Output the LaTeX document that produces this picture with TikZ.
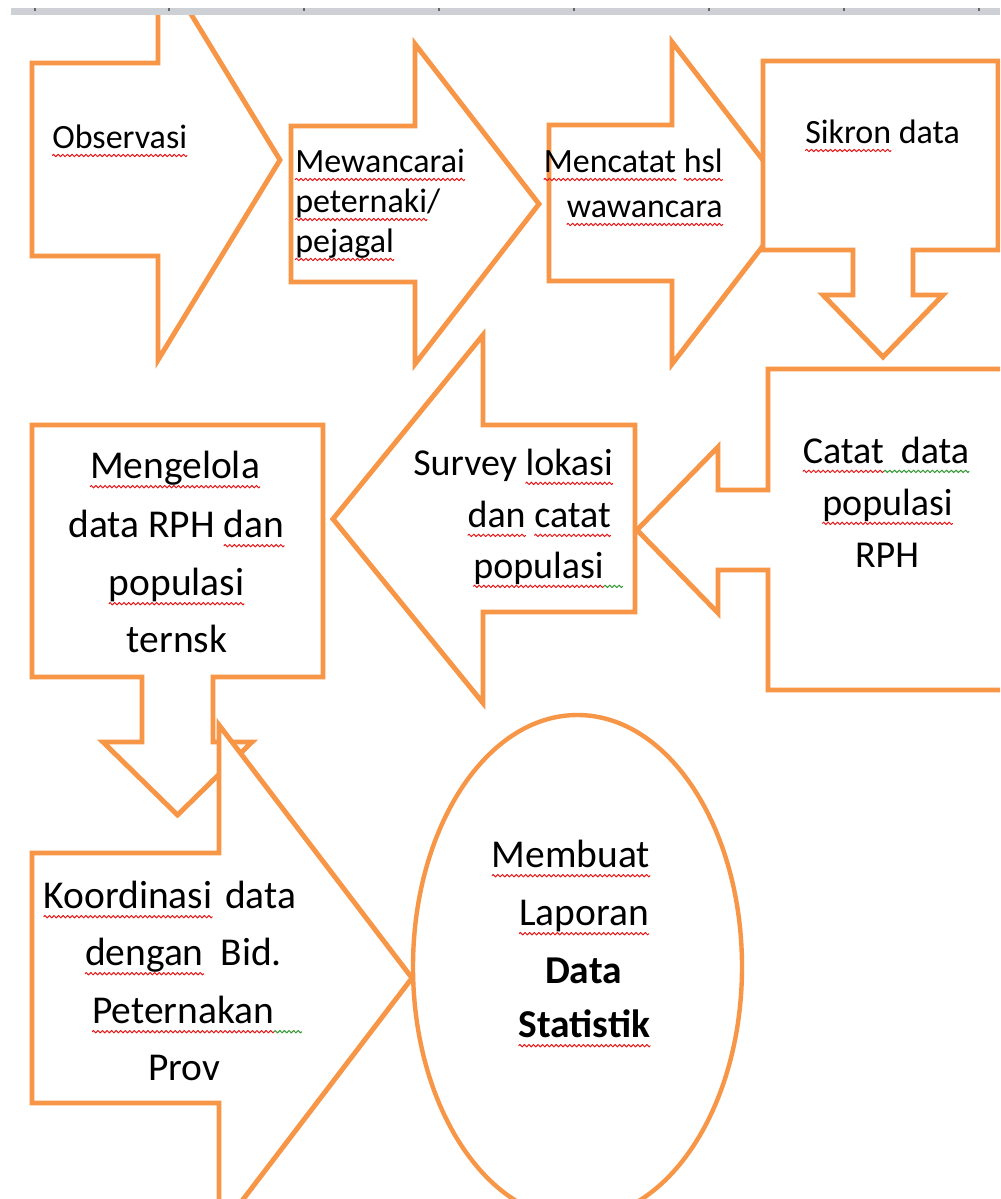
\documentclass[tikz,border=0pt]{standalone}
\usepackage{fontspec}
\setmainfont{Carlito}
\definecolor{orng}{HTML}{F79646}
\definecolor{barg}{HTML}{CDD0D5}
\newbox\wvbox
\newcommand\sqzig[1]{\hbox to 3.4pt{\special{pdf:content q #1 RG 0.75 w 1 J 1 j 0 0 m 0.85 0.9 l 2.55 -0.9 l 3.4 0 l S Q}\hss}}
\newcommand\wavy[2]{\setbox\wvbox\hbox{#2}\rlap{\lower.22em\hbox to \wd\wvbox{\xleaders\sqzig{#1}\hfil}}\box\wvbox}
\newcommand\rsq[1]{\wavy{0.9 0.1 0.1}{#1}}
\newcommand\gsq[1]{\wavy{0.2 0.6 0.2}{#1}}
\begin{document}
\begin{tikzpicture}[x=0.75pt,y=-0.75pt,
  shp/.style={draw=orng,fill=white,line width=3.7pt,line join=miter},
  tx/.style={inner sep=0pt,text=black},
  fa/.style={tx,font=\fontsize{25.5}{30}\selectfont},
  fb/.style={tx,font=\fontsize{28.5}{34}\selectfont},
  fc/.style={tx,font=\fontsize{29.6}{36}\selectfont},
  fcb/.style={tx,font=\fontsize{29.6}{36}\selectfont\bfseries}]
\useasboundingbox (0,0) rectangle (1000,1199);
\fill[white] (0,0) rectangle (1000,1199);
\begin{scope}
\clip (0,15) rectangle (1000,1199);
% A
\draw[shp] (32,63) -- (158,63) -- (158,-40) -- (280,160) -- (158,360) -- (158,256) -- (32,256) -- cycle;
\node[fa,anchor=base west] (a1) at (52,148) {\rsq{Observasi}};
% B
\draw[shp] (291,126) -- (415,126) -- (415,44) -- (539,204) -- (415,364) -- (415,282) -- (291,282) -- cycle;
\node[fa,anchor=base west] (b1) at (295,172) {\rsq{Mewancarai}};
\node[fa,anchor=base west] (b2) at (295,212) {\rsq{peternaki}/};
\node[fa,anchor=base west] (b3) at (295,252) {\rsq{pejagal}};
% C
\draw[shp] (549,125) -- (672,125) -- (672,42) -- (796,203) -- (672,364) -- (672,281) -- (549,281) -- cycle;
\node[fa,anchor=base east] (c1) at (723,172) {\rsq{Mencatat} \rsq{hsl}};
\node[fa,anchor=base east] (c2) at (723,217) {\rsq{wawancara}};
% D
\draw[shp] (763,61) -- (998,61) -- (998,250) -- (913,250) -- (913,295) -- (943,295) -- (883,357) -- (823,295) -- (853,295) -- (853,250) -- (763,250) -- cycle;
\node[fa,anchor=base west] (d1) at (805,143) {\rsq{Sikron} data};
% E
\draw[shp] (768,369) -- (1010,369) -- (1010,690) -- (768,690) -- (768,570) -- (718,570) -- (718,613) -- (637,530) -- (718,447) -- (718,490) -- (768,490) -- cycle;
\node[fb,anchor=base] (e1) at (886,463) {\rsq{Catat}\gsq{\hspace{0.45em}data}};
\node[fb,anchor=base] (e2) at (887.5,515) {\rsq{populasi}};
\node[fb,anchor=base] (e3) at (887,567) {RPH};
% F
\draw[shp] (635,425) -- (635,612) -- (483,612) -- (483,703) -- (333,519) -- (483,335) -- (483,425) -- cycle;
\node[fb,anchor=base east] (f1) at (613,475) {Survey \rsq{lokasi}};
\node[fb,anchor=base east] (f2) at (611,527) {\rsq{dan} \rsq{catat}};
\node[fb,anchor=base east] (f3) at (623,578) {\rsq{populasi}\gsq{\hspace{0.5em}}};
% G
\draw[shp] (32,425) -- (323,425) -- (323,677) -- (213,677) -- (213,742) -- (252,742) -- (177.5,815) -- (103,742) -- (142,742) -- (142,677) -- (32,677) -- cycle;
\node[fc,anchor=base] (g1) at (175,478) {\rsq{Mengelola}};
\node[fc,anchor=base] (g2) at (176.5,537) {data RPH \rsq{dan}};
\node[fc,anchor=base] (g3) at (176.5,595) {\rsq{populasi}};
\node[fc,anchor=base] (g4) at (177,652) {ternsk};
% H
\draw[shp] (32,853) -- (219,853) -- (219,725) -- (412,978) -- (219,1231) -- (219,1103) -- (32,1103) -- cycle;
\node[fc,anchor=base] (h1) at (170,908) {\rsq{Koordinasi}\hspace{0.33em}data};
\node[fc,anchor=base] (h2) at (183.5,965) {\rsq{dengan}\hspace{0.43em}Bid.};
\node[fc,anchor=base west] (h3) at (92,1023) {\rsq{Peternakan}\gsq{\hspace{0.7em}}};
\node[fc,anchor=base] (h4) at (184,1080) {Prov};
% I
\draw[shp,line width=3.3pt] (577.5,967) ellipse [x radius=164.5,y radius=252];
\node[fc,anchor=base] (i1) at (571,867) {\rsq{Membuat}};
\node[fc,anchor=base] (i2) at (584,925) {\rsq{Laporan}};
\node[fcb,anchor=base] (i3) at (583.5,983) {Data};
\node[fcb,anchor=base] (i4) at (584.5,1037) {\rsq{Statistik}};
\end{scope}
% ruler bar
\fill[barg] (11,8) rectangle (1000,15);
\foreach \tx in {35,169,304,439,574,709,844,979}
  \fill[black!60] (\tx-0.6,8) rectangle (\tx+0.6,10.5);
\end{tikzpicture}
\end{document}
